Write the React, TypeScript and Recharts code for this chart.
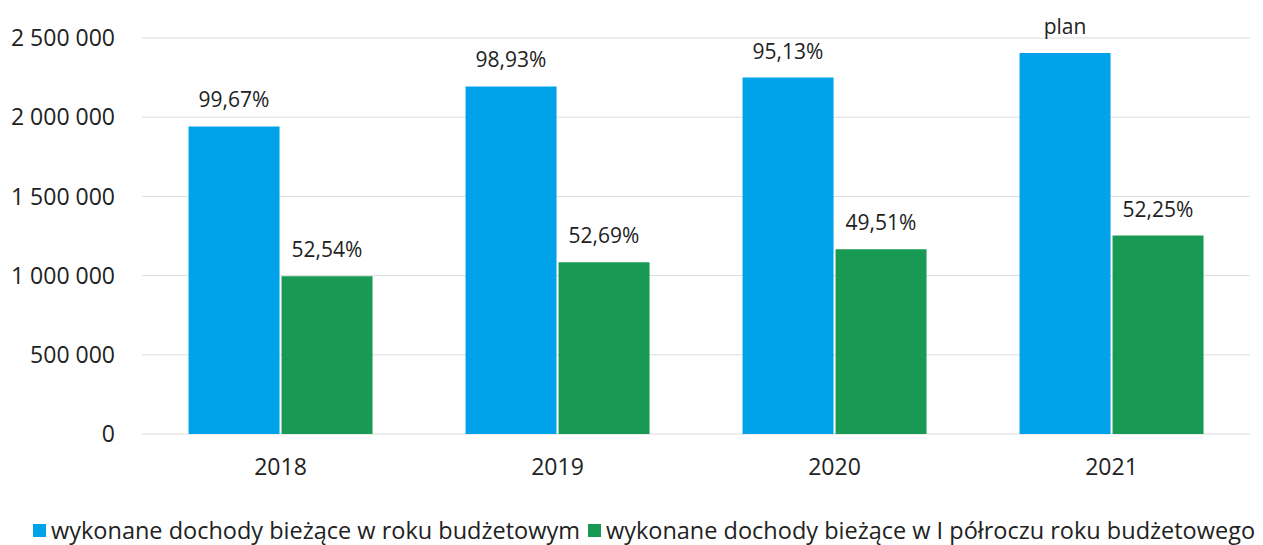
import React from "react";
import { BarChart, Bar, XAxis, YAxis, CartesianGrid, Legend, LabelList } from "recharts";

const categories = ["2018", "2019", "2020", "2021"];
const annualValues = [1942000, 2194000, 2250000, 2405000];
const halfYearValues = [996000, 1084000, 1166000, 1253000];
const annualLabels = ["99,67%", "98,93%", "95,13%", "plan"];
const halfYearLabels = ["52,54%", "52,69%", "49,51%", "52,25%"];
const yTicks = [0, 500000, 1000000, 1500000, 2000000, 2500000];
const seriesNames = [
  "wykonane dochody bieżące w roku budżetowym",
  "wykonane dochody bieżące w I półroczu roku budżetowego",
];

const BLUE = "#00A3E9";
const GREEN = "#189A55";
const FONT = "'Open Sans', sans-serif";

const data = categories.map((c, i) => ({
  year: c,
  annual: annualValues[i],
  half: halfYearValues[i],
  annualLabel: annualLabels[i],
  halfLabel: halfYearLabels[i],
}));

const fmt = (v: number) => String(v).replace(/\B(?=(\d{3})+(?!\d))/g, " ");

const renderLegend = () => (
  <div style={{ display: "flex", alignItems: "center", height: 30, fontFamily: FONT, fontSize: 23.5, color: "#222", whiteSpace: "nowrap" }}>
    {seriesNames.map((n, i) => (
      <span key={n} style={{ display: "inline-flex", alignItems: "center", marginRight: 8 }}>
        <span style={{ display: "inline-block", width: 13, height: 13, background: i === 0 ? BLUE : GREEN, marginRight: 5 }} />
        {n}
      </span>
    ))}
  </div>
);

export default function App() {
  return (
    <div style={{ position: "absolute", left: 0, top: 0, width: 1263, height: 545, background: "#fff" }}>
      <BarChart
        width={1263}
        height={545}
        data={data}
        margin={{ top: 38, right: 13, bottom: 0, left: 0 }}
        barCategoryGap="16.8%"
        barGap={2}
      >
        <CartesianGrid vertical={false} stroke="#dcdcdc" />
        <XAxis
          dataKey="year"
          axisLine={false}
          tickLine={false}
          tickSize={0}
          tickMargin={25}
          height={81}
          tick={{ fontFamily: FONT, fontSize: 23, fill: "#222" }}
        />
        <YAxis
          domain={[0, 2500000]}
          ticks={yTicks}
          tickFormatter={fmt}
          axisLine={false}
          tickLine={false}
          tickSize={0}
          tickMargin={27}
          width={142}
          interval={0}
          tick={{ fontFamily: FONT, fontSize: 23, fill: "#222" }}
        />
        <Legend
          verticalAlign="bottom"
          align="left"
          content={renderLegend}
          wrapperStyle={{ left: 33, height: 30 }}
        />
        <Bar dataKey="annual" name={seriesNames[0]} fill={BLUE} isAnimationActive={false}>
          <LabelList dataKey="annualLabel" position="top" offset={19} style={{ fontFamily: FONT, fontSize: 21, fill: "#222" }} />
        </Bar>
        <Bar dataKey="half" name={seriesNames[1]} fill={GREEN} isAnimationActive={false}>
          <LabelList dataKey="halfLabel" position="top" offset={19} style={{ fontFamily: FONT, fontSize: 21, fill: "#222" }} />
        </Bar>
      </BarChart>
    </div>
  );
}
